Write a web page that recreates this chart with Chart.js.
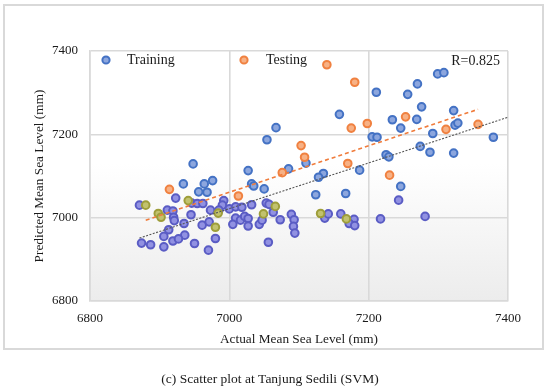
<!DOCTYPE html>
<html><head><meta charset="utf-8">
<script src="https://cdn.jsdelivr.net/npm/chart.js@4/dist/chart.umd.min.js"></script>
<style>html,body{margin:0;padding:0;background:#fff;} #wrap{width:550px;height:390px;position:relative}</style>
</head><body><div id="wrap"><canvas id="c" width="550" height="390"></canvas></div>
<script>
// ---- data ----
const trainingX = [7211,7256,7270,7299,7308,7158,7276,7322,7234,7269,
  7246,7067,7324,7328,7292,7379,7054,7205,7212,7274,
  7288,7322,7225,7229,6948,7110,7085,7027,7187,7135,
  7128,7032,7035,6934,6964,6968,6976,6956,7050,7246,
  7124,7167,7243,6923,6992,6990,6946,6954,6962,7053,
  6871,7032,6985,7000,7009,7018,6911,6919,6973,6945,
  6920,6921,7009,7016,7022,7027,7089,7093,7092,7094,
  7073,7137,7142,7160,7179,7172,7180,7217,7281,6935,
  6961,6971,7005,7027,7043,7047,6913,6906,6936,6874,
  6887,6906,6919,6927,6950,6970,7056,6980,7057,7063];
const trainingY = [7301,7296,7321,7345,7348,7248,7266,7257,7235,7236,
  7215,7216,7222,7227,7202,7193,7187,7194,7193,7171,
  7157,7155,7151,7146,7129,7131,7117,7113,7114,7106,
  7097,7081,7076,7081,7081,7061,7089,7062,7069,7075,
  7055,7058,7042,7047,7041,7030,7035,7034,7034,7035,
  7030,7031,7018,7021,7026,7025,7018,7016,7018,7007,
  7001,6993,6999,6994,7003,6998,7008,6995,6979,6963,
  6995,6999,7009,7009,6996,6986,6981,6997,7003,6986,
  6982,6990,6984,6980,6984,6994,6971,6955,6958,6939,
  6935,6930,6944,6949,6938,6922,6941,6950,7032,7013];
const testingX = [7140,7180,7175,7198,7253,7311,7357,7103,7108,7076,
  7170,7230,6914,7013,6941,6880,6898,6902,6984,7049,7066,6980,7131,7168];
const testingY = [7367,7325,7215,7226,7242,7212,7224,7173,7145,7108,
  7130,7102,7068,7052,7041,7030,7010,7001,7011,7009,7027,6977,7010,6997];
const trainTrendX = [6871, 7400];
const trainTrendY = [6951, 7241];
const testTrendX = [6880, 7357];
const testTrendY = [6994, 7260];
const axisTicks = [6800, 7000, 7200, 7400];
const seriesNames = ['Training', 'Testing'];
const rLabel = 'R=0.825';
const xTitle = 'Actual Mean Sea Level (mm)';
const yTitle = 'Predicted Mean Sea Level (mm)';
const caption = '(c) Scatter plot at Tanjung Sedili (SVM)';

const zip = (xs, ys) => xs.map((x, i) => ({x, y: ys[i]}));
const FONT = "'Liberation Serif', serif";

const blueFill = '#8CA6DE', blueLine = '#4472C4';
const purpFill = '#9191E2', purpLine = '#5A5CC4';
const orFill = '#F7B185', orLine = '#F08140';
const olFill = '#C2C26E', olLine = '#9E9E3A';

const deco = {
  id: 'deco',
  beforeDraw(chart) {
    const {ctx, chartArea: a} = chart;
    ctx.save();
    const g = ctx.createLinearGradient(0, a.top, 0, a.bottom);
    g.addColorStop(0, '#ffffff');
    g.addColorStop(0.45, '#ffffff');
    g.addColorStop(1, '#ececec');
    ctx.fillStyle = g;
    ctx.fillRect(a.left, a.top, a.right - a.left, a.bottom - a.top);
    ctx.restore();
  },
  afterDraw(chart) {
    const {ctx} = chart;
    ctx.save();
    ctx.strokeStyle = '#d9d9d9';
    ctx.lineWidth = 2;
    ctx.strokeRect(4, 5, 539, 344);
    // legend
    const ly = 60;
    const mk = (x, f, l) => {
      ctx.beginPath(); ctx.arc(x, ly, 3.6, 0, Math.PI * 2);
      ctx.fillStyle = f; ctx.fill(); ctx.lineWidth = 2; ctx.strokeStyle = l; ctx.stroke();
    };
    mk(106, blueFill, blueLine);
    mk(244, orFill, orLine);
    ctx.fillStyle = '#1a1a1a';
    ctx.font = '14px ' + FONT;
    ctx.textBaseline = 'middle';
    ctx.textAlign = 'left';
    ctx.fillText(seriesNames[0], 127, ly);
    ctx.fillText(seriesNames[1], 266, ly);
    ctx.textAlign = 'right';
    ctx.fillText(rLabel, 500, ly + 1);
    ctx.textAlign = 'center';
    ctx.font = '13.5px ' + FONT;
    ctx.fillText(caption, 270, 379);
    ctx.restore();
  }
};

const scaleCommon = {
  type: 'linear', min: 6800, max: 7400,
  afterBuildTicks: s => { s.ticks = axisTicks.map(v => ({value: v})); },
  grid: {color: '#d9d9d9', lineWidth: 1.6, drawTicks: false},
  border: {color: '#d9d9d9', width: 1.6},
};

new Chart(document.getElementById('c'), {
  type: 'scatter',
  data: {
    datasets: [
      {type: 'line', label: 'testTrend', data: zip(testTrendX, testTrendY), borderColor: '#F07C3C',
        borderWidth: 1.6, borderDash: [4, 3], pointRadius: 0, fill: false, order: 0},
      {type: 'line', label: 'trainTrend', data: zip(trainTrendX, trainTrendY), borderColor: '#555555',
        borderWidth: 1.1, borderDash: [2, 1.5], pointRadius: 0, fill: false, order: 0},
      {label: seriesNames[1], data: zip(testingX, testingY), order: 1,
        pointRadius: 3.8, borderWidth: 2,
        backgroundColor: c => (c.raw && c.raw.y < 7045) ? olFill : orFill,
        borderColor: c => (c.raw && c.raw.y < 7045) ? olLine : orLine},
      {label: seriesNames[0], data: zip(trainingX, trainingY), order: 2,
        pointRadius: 3.8, borderWidth: 2,
        backgroundColor: c => (c.raw && c.raw.y < 7050) ? purpFill : blueFill,
        borderColor: c => (c.raw && c.raw.y < 7050) ? purpLine : blueLine},
    ]
  },
  options: {
    responsive: false, animation: false, devicePixelRatio: 1,
    layout: {padding: {left: 28, top: 51, right: 42, bottom: 39}},
    plugins: {legend: {display: false}, tooltip: {enabled: false}},
    scales: {
      x: Object.assign({}, scaleCommon, {
        position: 'bottom',
        afterFit: s => { s.height = 50; },
        ticks: {font: {family: FONT, size: 13}, color: '#1a1a1a', padding: 10, callback: v => String(v)},
        title: {display: true, text: xTitle, font: {family: FONT, size: 13.3}, color: '#1a1a1a'}
      }),
      y: Object.assign({}, scaleCommon, {
        position: 'left',
        afterFit: s => { s.width = 62; },
        ticks: {font: {family: FONT, size: 13}, color: '#1a1a1a', padding: 12, callback: v => String(v)},
        title: {display: true, text: yTitle, font: {family: FONT, size: 13.3}, color: '#1a1a1a'}
      })
    }
  },
  plugins: [deco]
});
</script>
</body></html>
